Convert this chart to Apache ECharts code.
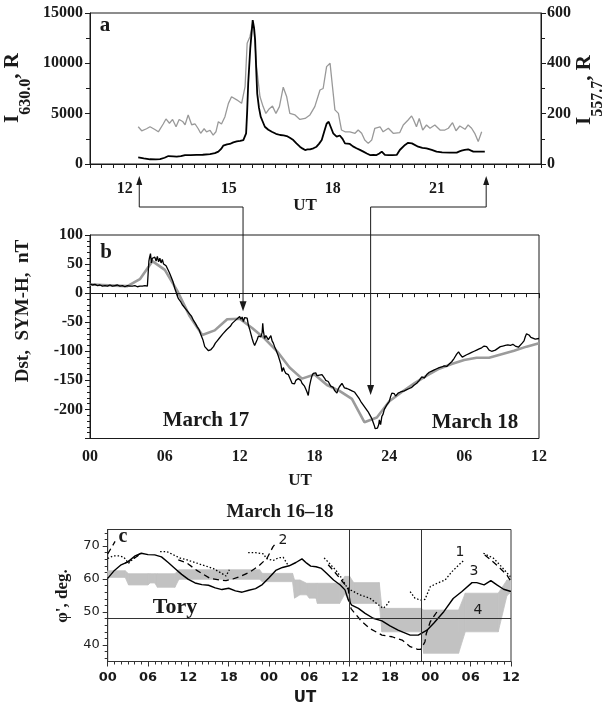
<!DOCTYPE html>
<html>
<head>
<meta charset="utf-8">
<script src="https://cdn.jsdelivr.net/npm/echarts@6/dist/echarts.min.js"></script>
<style>
  html, body { margin: 0; padding: 0; background: #fff; }
  #chart { width: 605px; height: 711px; }
</style>
</head>
<body>
<div id="chart"></div>
<script>
// ---- Panel a: auroral emission intensities, UT hours (March 17) ----
const i630 = [
  [12.39,662],[12.55,560],[12.73,470],[12.9,450],[13.02,480],[13.15,620],[13.26,790],[13.4,760],[13.5,730],
  [13.62,780],[13.74,890],[13.9,880],[14.07,900],[14.25,920],[14.46,990],[14.6,1080],[14.7,1230],[14.78,1500],
  [14.84,1820],[14.95,1950],[15.03,1990],[15.13,2150],[15.23,2250],[15.33,2300],[15.42,2380],[15.47,2500],
  [15.5,3050],[15.53,5200],[15.56,8000],[15.62,11500],[15.69,14300],[15.73,13500],[15.76,12300],[15.79,9500],
  [15.82,7000],[15.87,5600],[15.92,4700],[15.98,4200],[16.04,3700],[16.14,3400],[16.24,3200],[16.36,3000],
  [16.48,2880],[16.58,2850],[16.67,2780],[16.76,2600],[16.86,2380],[16.95,2050],[17.05,1720],[17.12,1550],
  [17.2,1390],[17.27,1450],[17.34,1460],[17.44,1560],[17.53,1720],[17.6,2000],[17.68,2380],[17.75,3200],
  [17.82,4000],[17.88,4200],[17.92,4040],[18.01,3050],[18.11,2720],[18.2,2830],[18.28,2500],[18.35,2050],
  [18.49,1990],[18.58,1750],[18.68,1560],[18.78,1400],[18.88,1230],[18.98,1050],[19.07,890],[19.17,900],
  [19.26,890],[19.34,1050],[19.41,1230],[19.5,900],[19.6,880],[19.72,890],[19.84,900],[19.93,1390],
  [20.08,1890],[20.17,2100],[20.22,2220],[20.28,2050],[20.32,1890],[20.46,1720],[20.58,1600],[20.7,1560],
  [20.85,1400],[20.99,1230],[21.15,1150],[21.37,1130],[21.57,1130],[21.65,1250],[21.71,1320],[21.8,1400],
  [21.9,1460],[21.97,1350],[22.05,1230],[22.2,1220],[22.38,1220]
];
const i557 = [
  [12.39,148],[12.49,132],[12.63,140],[12.73,148],[12.87,137],[12.97,128],[13.11,159],[13.19,179],[13.29,162],
  [13.38,177],[13.48,148],[13.57,177],[13.67,169],[13.74,156],[13.83,195],[13.93,156],[14.03,159],[14.12,140],
  [14.19,122],[14.29,140],[14.36,128],[14.46,134],[14.55,115],[14.63,128],[14.7,168],[14.79,159],[14.89,188],
  [14.99,241],[15.08,267],[15.23,255],[15.37,241],[15.47,307],[15.53,480],[15.61,506],[15.69,560],[15.73,535],
  [15.8,387],[15.9,267],[15.99,228],[16.07,201],[16.17,220],[16.26,230],[16.36,201],[16.46,228],[16.57,305],
  [16.67,267],[16.76,201],[16.91,195],[17.05,177],[17.2,181],[17.34,195],[17.48,228],[17.63,294],[17.72,300],
  [17.82,387],[17.92,400],[17.99,307],[18.06,215],[18.16,201],[18.25,135],[18.35,128],[18.49,128],[18.64,122],
  [18.73,135],[18.83,122],[18.92,95],[19.02,82],[19.12,95],[19.21,142],[19.36,148],[19.45,128],[19.6,142],
  [19.74,122],[19.93,125],[20.03,155],[20.17,175],[20.27,191],[20.32,178],[20.41,148],[20.49,181],[20.59,135],
  [20.7,155],[20.8,142],[20.94,155],[21.09,135],[21.23,135],[21.33,142],[21.45,164],[21.55,132],[21.66,151],
  [21.81,138],[21.9,155],[22.0,142],[22.09,122],[22.19,89],[22.29,128]
];
const utLabelsA = [12, 15, 18, 21];

// ---- Panel b: Dst (hourly) and SYM-H, hours from 00 UT March 17 ----
const dst = [
  [0,15],[1,14],[2,13],[3,12],[4,24],[5,55],[6,40],[7,4],[8,-40],[9,-72],[10,-64],[11,-45],[12,-44],
  [13,-60],[14,-78],[15,-100],[16,-128],[17,-147],[18,-140],[19,-158],[20,-168],[21,-182],[22,-222],
  [23,-214],[24,-186],[25,-170],[26,-155],[27,-142],[28,-130],[29,-122],[30,-115],[31,-111],[32,-111],
  [33,-105],[34,-99],[35,-92],[36,-86]
];
const symH = [
  [0,16],[0.2,14],[0.4,15],[0.6,13],[0.8,14],[1,12],[1.2,13],[1.4,12],[1.6,14],[1.8,12],[2,13],[2.2,14],
  [2.4,12],[2.6,13],[2.8,11],[3,13],[3.2,12],[3.4,12],[3.6,13],[3.8,11],[4,12],[4.2,12],[4.4,13],[4.6,12],
  [4.68,14],[4.72,55],[4.78,62],[4.85,68],[4.92,52],[5,60],[5.1,57],[5.2,62],[5.3,55],[5.4,63],[5.5,54],
  [5.6,60],[5.7,52],[5.8,58],[5.9,50],[6,53],[6.1,47],[6.2,44],[6.35,36],[6.5,28],[6.65,20],[6.8,8],
  [6.9,2],[7,-5],[7.1,-10],[7.25,-14],[7.4,-20],[7.55,-22],[7.7,-28],[7.85,-30],[8,-36],[8.15,-40],
  [8.3,-47],[8.45,-52],[8.6,-58],[8.75,-63],[8.9,-72],[9.05,-80],[9.2,-92],[9.35,-95],[9.5,-99],[9.6,-101],
  [9.7,-97],[9.8,-95],[9.9,-92],[10.05,-86],[10.2,-82],[10.35,-78],[10.5,-75],[10.65,-70],[10.8,-68],
  [10.95,-63],[11.1,-60],[11.25,-57],[11.4,-52],[11.55,-50],[11.7,-46],[11.85,-43],[12,-40],[12.1,-45],
  [12.2,-41],[12.3,-49],[12.4,-42],[12.5,-45],[12.6,-43],[12.7,-55],[12.8,-62],[12.9,-70],[13,-78],
  [13.1,-85],[13.2,-90],[13.3,-92],[13.4,-80],[13.5,-74],[13.6,-72],[13.7,-75],[13.8,-68],[13.85,-52],
  [13.9,-65],[14,-78],[14.1,-73],[14.2,-76],[14.3,-80],[14.4,-77],[14.5,-73],[14.6,-82],[14.7,-86],
  [14.8,-92],[14.9,-97],[15,-100],[15.1,-108],[15.2,-115],[15.3,-122],[15.4,-135],[15.5,-128],[15.6,-134],
  [15.7,-138],[15.8,-136],[15.9,-140],[16,-145],[16.1,-150],[16.2,-155],[16.3,-152],[16.4,-156],[16.5,-150],
  [16.6,-152],[16.7,-147],[16.8,-149],[16.9,-150],[17,-155],[17.1,-154],[17.2,-160],[17.3,-165],[17.4,-170],
  [17.5,-176],[17.6,-160],[17.7,-150],[17.8,-142],[17.9,-138],[18,-140],[18.1,-137],[18.2,-142],[18.3,-145],
  [18.4,-141],[18.5,-144],[18.6,-140],[18.7,-142],[18.8,-146],[18.9,-150],[19,-148],[19.1,-152],[19.2,-155],
  [19.3,-160],[19.4,-158],[19.5,-162],[19.6,-167],[19.7,-170],[19.8,-172],[19.9,-165],[20,-161],[20.1,-158],
  [20.2,-155],[20.3,-158],[20.4,-163],[20.5,-160],[20.6,-164],[20.7,-162],[20.8,-166],[20.9,-163],[21,-168],
  [21.1,-166],[21.2,-170],[21.3,-173],[21.4,-176],[21.5,-178],[21.6,-182],[21.7,-186],[21.8,-188],[21.9,-192],
  [22,-195],[22.1,-198],[22.2,-200],[22.3,-204],[22.4,-208],[22.5,-212],[22.6,-216],[22.7,-222],[22.8,-228],
  [22.86,-233],[22.95,-230],[23.05,-232],[23.15,-226],[23.2,-218],[23.3,-226],[23.4,-212],[23.5,-208],
  [23.6,-200],[23.7,-196],[23.8,-192],[23.9,-190],[24,-186],[24.1,-178],[24.2,-172],[24.3,-175],[24.4,-173],
  [24.5,-177],[24.6,-175],[24.7,-172],[24.8,-174],[24.9,-170],[25,-172],[25.2,-168],[25.4,-166],[25.6,-164],
  [25.8,-162],[26,-158],[26.2,-155],[26.4,-150],[26.6,-144],[26.8,-146],[27,-140],[27.2,-136],[27.4,-134],
  [27.6,-132],[27.8,-130],[28,-128],[28.2,-127],[28.4,-125],[28.6,-126],[28.8,-122],[29,-118],[29.2,-112],
  [29.4,-105],[29.55,-101],[29.7,-106],[29.85,-110],[30,-109],[30.2,-106],[30.4,-104],[30.6,-102],[30.8,-100],
  [31,-98],[31.2,-96],[31.4,-94],[31.6,-91],[31.7,-89],[31.8,-92],[31.9,-95],[32,-98],[32.2,-100],[32.35,-102],
  [32.5,-98],[32.7,-95],[32.9,-92],[33.1,-91],[33.3,-90],[33.5,-89],[33.7,-90],[33.9,-88],[34.1,-91],
  [34.35,-93],[34.5,-90],[34.65,-86],[34.8,-82],[34.9,-75],[35,-70],[35.06,-68],[35.2,-72],[35.35,-76],
  [35.5,-78],[35.7,-79],[35.85,-77],[36,-78]
];

// Arrows linking the two upper panels: UT in panel a, and [hour, nT] in panel b
const arrowTimesA = [12.42, 22.42];
const arrowTipsB = [[12.27, -31], [22.5, -175]];

// ---- Panel c: latitudes, hours from 00 UT March 16 ----
const curve3 = [
  [0,60.2],[1,62.6],[2,64.3],[3,65.2],[4,66.9],[5,67.8],[6,67.4],[7,67.3],[8,66.7],[9,65.0],[10,63.2],
  [11,61.4],[12,59.9],[13,58.8],[14,58.3],[15,58.1],[16,57.3],[17,56.8],[18,57.2],[19,56.4],[20,56.0],
  [21,56.6],[22,57.1],[23,58.3],[24,60.4],[25,62.6],[26,63.5],[27,64.0],[28,65.0],[28.9,66.1],[29.6,64.8],
  [30.2,63.9],[31,63.7],[31.8,63.2],[32.6,61.7],[33.6,59.7],[34.6,58.2],[35.3,56.7],[35.8,53.6],[36.3,52.1],
  [37.3,51.1],[38.3,49.6],[39.5,48.1],[40.8,47.3],[42,45.8],[43.2,44.5],[44,43.8],[45,43.0],[46.2,43.0],
  [47.5,44.5],[48.5,46.6],[50,50.1],[51.4,54.1],[52.7,56.2],[54.2,58.9],[54.9,58.9],[56,58.2],[57,59.5],
  [57.9,58.2],[58.9,56.9],[60,56.2]
];
const curve1Segments = [
  [[0,66.2],[0.8,67.0],[1.8,67.0],[2.4,66.6],[3.1,64.8],[4,66.5],[4.8,67.6]],
  [[7.8,68.3],[8.8,68.3],[9.8,67.3],[10.8,66.3],[11.8,65.8],[13.7,64.5],[15.7,63.2],[17.2,61.4],[17.6,60.9],[18.1,62.8]],
  [[20.9,68.0],[22.0,68.0],[23.2,67.6],[23.6,66.2],[24.6,65.6],[25.4,66.4],[26.1,66.6],[26.8,64.3]],
  [[32.2,66.4],[33.1,64.5],[34.0,62.5],[34.9,60.0],[35.5,57.8],[36.1,56.7],[37.5,55.2],[39,54.2],[40,52.6],[41,51.1],[41.5,52.1],[42,53.6]],
  [[45,56.2],[45.7,54.2],[46.5,53.6],[47.2,53.8],[48,57.7],[49,58.7],[50.2,59.7],[51.2,62.2],[52.2,64.2],[52.9,65.5]],
  [[55.9,67.8],[57.4,66.3],[58.6,63.7],[59.9,60.7]]
];
const curve2Segments = [
  [[0,67.6],[1.1,71.4]],
  [[2.6,64.8],[3.6,65.8],[4.6,67.2]],
  [[10.5,65.8],[11.8,64.8],[13.2,62.7],[15.2,60.2],[16.7,59.7],[17.6,59.5],[18.6,60.0],[19.7,60.7],[21.2,62.2],[22.5,64.0],[23.7,66.3],[24.6,69.8],[25.0,70.8]],
  [[32.8,64.3],[33.7,62.3],[34.5,60.3],[35.3,58.3],[35.8,56.8],[36.2,51.0],[37.8,47.1],[39,45.0],[40.8,43.0],[42.3,42.5],[43.8,41.5],[45,39.5],[46.1,38.7],[46.6,38.7],[47.2,41.0],[47.4,43.5],[48,47.1],[49,50.1]],
  [[56.1,67.3],[57.9,64.2],[59.4,61.2],[60,59.2]]
];
// Shaded region 4: hour, lower edge, upper edge
const band4T  = [0, 2.6, 3.1, 6.0, 6.3, 7.0, 7.4, 10.0, 10.6, 22.6, 23.0, 27.5, 27.8, 28.6, 29.6, 30.0, 31.0, 31.2, 34.5, 35.3, 36.0, 36.6, 40.4, 40.8, 46.6, 47.0, 52.2, 53.2, 58.1, 59.4, 60];
const band4Lo = [60.5, 60.5, 58.2, 58.2, 58.8, 58.8, 57.5, 57.5, 59.9, 59.9, 59.2, 59.2, 54.2, 55.2, 55.2, 54.2, 54.2, 52.6, 52.6, 55.5, 52.8, 52.6, 52.6, 44.0, 44.0, 37.5, 37.5, 44.0, 44.0, 55.0, 56.0];
const band4Hi = [62.5, 62.5, 61.6, 61.6, 61.6, 61.6, 61.6, 61.6, 62.8, 62.8, 61.7, 61.7, 59.7, 59.7, 58.7, 58.7, 58.7, 58.7, 58.7, 60.8, 60.8, 58.9, 58.9, 51.1, 51.1, 50.6, 50.6, 55.7, 55.7, 59.7, 59.7];
const toryLatitude = 48.2;
const markerHours = [36, 46.6];

const chart = echarts.init(document.getElementById('chart'), null, { renderer: 'canvas' });

const ink = '#1a1a1a';
const bandGray = '#c2c2c2';
const serif = 'Liberation Serif, Times New Roman, serif';
const sans = 'DejaVu Sans, Verdana, sans-serif';
const serifLabel = { fontFamily: serif, fontWeight: 'bold', fontSize: 16, color: ink };
const axisLine = { show: true, lineStyle: { color: ink, width: 1 } };
const pad2 = v => (v < 10 ? '0' : '') + v;

const lineSeries = (name, data, xi, yi, style) => ({
  name, type: 'line', data, xAxisIndex: xi, yAxisIndex: yi,
  showSymbol: false, symbol: 'none', silent: true, lineStyle: style, z: 3
});

const series = [
  lineSeries('I557.7', i557, 0, 1, { color: '#999', width: 1.3 }),
  lineSeries('I630.0', i630, 0, 0, { color: '#000', width: 1.8 }),
  Object.assign(lineSeries('Dst', dst, 1, 2, { color: '#9b9b9b', width: 2.6 }), {
    markLine: { silent: true, symbol: 'none', label: { show: false },
      lineStyle: { color: ink, width: 1, type: 'solid' }, data: [{ yAxis: 0 }] }
  }),
  lineSeries('SYM-H', symH, 1, 2, { color: '#000', width: 1.3 }),
  {
    // region 4: filled between its lower and upper edges, one quad per step
    name: 'band4', type: 'custom', xAxisIndex: 2, yAxisIndex: 3, silent: true, z: 1,
    data: band4T.map((t, i) => [t, band4Lo[i], band4Hi[i]]),
    encode: { x: 0, y: [1, 2] },
    renderItem: (params, api) => {
      const i = params.dataIndex;
      if (i >= band4T.length - 1) return null;
      const pts = [
        api.coord([band4T[i], band4Lo[i]]),
        api.coord([band4T[i + 1], band4Lo[i + 1]]),
        api.coord([band4T[i + 1], band4Hi[i + 1]]),
        api.coord([band4T[i], band4Hi[i]])
      ];
      return { type: 'polygon', shape: { points: pts },
        style: { fill: bandGray, stroke: bandGray, lineWidth: 0.8 } };
    }
  }
];
curve1Segments.forEach((seg, k) => series.push(lineSeries('curve1-' + k, seg, 2, 3, { color: '#000', width: 1.3, type: [1.5, 2] })));
curve2Segments.forEach((seg, k) => series.push(lineSeries('curve2-' + k, seg, 2, 3, { color: '#000', width: 1.3, type: [6, 4] })));
series.push(Object.assign(lineSeries('curve3', curve3, 2, 3, { color: '#000', width: 1.4 }), {
  markLine: {
    silent: true, symbol: 'none', label: { show: false },
    lineStyle: { color: '#333', width: 1, type: 'solid' },
    data: [{ yAxis: toryLatitude }].concat(markerHours.map(h => ({ xAxis: h })))
  }
}));

const cTicksMinor = [];
for (let v = 36; v <= 74; v += 2) cTicksMinor.push(v);

const option = {
  animation: false,
  backgroundColor: '#fff',
  grid: [
    { left: 90, top: 13, width: 451, height: 151, show: true, borderColor: ink, borderWidth: 1 },
    { left: 90, top: 235, width: 449, height: 203.5, show: true, borderColor: ink, borderWidth: 1 },
    { left: 107.7, top: 529.5, width: 403.3, height: 132, show: true, borderColor: '#333', borderWidth: 1 }
  ],
  xAxis: [
    {
      gridIndex: 0, type: 'value', min: 11, max: 24, interval: 1,
      axisLine, splitLine: { show: false },
      axisTick: { show: true, length: 4, lineStyle: { color: ink } },
      minorTick: { show: true, splitNumber: 3, length: 4, lineStyle: { color: ink } },
      axisLabel: Object.assign({}, serifLabel, { margin: 17, formatter: v => utLabelsA.includes(v) ? String(v) : '' })
    },
    {
      gridIndex: 1, type: 'value', min: 0, max: 36, interval: 6,
      axisLine, splitLine: { show: false },
      axisTick: { show: true, length: 5, lineStyle: { color: ink } },
      minorTick: { show: true, splitNumber: 6, length: 4, lineStyle: { color: ink } },
      axisLabel: Object.assign({}, serifLabel, { margin: 10, formatter: v => v === 24 ? '24' : pad2(v % 24) })
    },
    {
      gridIndex: 2, type: 'value', min: 0, max: 60, interval: 6,
      axisLine: { show: true, lineStyle: { color: '#333' } }, splitLine: { show: false },
      axisTick: { show: true, length: 5, lineStyle: { color: '#333' } },
      minorTick: { show: true, splitNumber: 6, length: 3, lineStyle: { color: '#333' } },
      axisLabel: { fontFamily: sans, fontWeight: 'bold', fontSize: 13, color: ink, margin: 10,
        formatter: v => pad2(v % 24) }
    }
  ],
  yAxis: [
    {
      gridIndex: 0, type: 'value', min: 0, max: 15000, interval: 5000, position: 'left',
      axisLine, splitLine: { show: false },
      axisTick: { show: true, length: 5, lineStyle: { color: ink } },
      minorTick: { show: true, splitNumber: 2, length: 4, lineStyle: { color: ink } },
      axisLabel: Object.assign({}, serifLabel, { margin: 7, formatter: v => String(v) })
    },
    {
      gridIndex: 0, type: 'value', min: 0, max: 600, interval: 200, position: 'right',
      axisLine, splitLine: { show: false },
      axisTick: { show: true, length: 5, lineStyle: { color: ink } },
      minorTick: { show: true, splitNumber: 2, length: 4, lineStyle: { color: ink } },
      axisLabel: Object.assign({}, serifLabel, { margin: 6, formatter: v => String(v) })
    },
    {
      gridIndex: 1, type: 'value', min: -250, max: 100, interval: 50,
      axisLine, splitLine: { show: false },
      axisTick: { show: true, length: 5, lineStyle: { color: ink } },
      minorTick: { show: true, splitNumber: 5, length: 3, lineStyle: { color: ink } },
      axisLabel: Object.assign({}, serifLabel, { margin: 7, formatter: v => v === -250 ? '' : String(v) })
    },
    {
      gridIndex: 2, type: 'value', min: 35, max: 75,
      axisLine: { show: true, lineStyle: { color: '#333' } }, splitLine: { show: false },
      axisTick: { show: true, length: 5, customValues: [40, 50, 60, 70], lineStyle: { color: '#333' } },
      axisLabel: { customValues: [40, 50, 60, 70], fontFamily: sans, fontSize: 13, color: '#222', margin: 8 }
    },
    {
      gridIndex: 2, type: 'value', min: 35, max: 75, position: 'left',
      axisLine: { show: false }, splitLine: { show: false },
      axisTick: { show: true, length: 3, customValues: cTicksMinor, lineStyle: { color: '#333' } },
      axisLabel: { show: false }
    }
  ],
  series
};
chart.setOption(option);

// ---- Annotations (text and linking arrows) ----
const txt = (x, y, text, font, extra) => ({
  type: 'text', x, y, silent: true, z: 10,
  style: Object.assign({ text, font, fill: ink, align: 'center', verticalAlign: 'middle' }, extra || {})
});
const titleRich = {
  b: { font: 'bold 21px ' + serif, fill: ink, lineHeight: 22, verticalAlign: 'top' },
  s: { font: 'bold 16px ' + serif, fill: ink, lineHeight: 32, verticalAlign: 'bottom' }
};

const graphics = [
  txt(105, 26, 'a', 'bold 21px ' + serif),
  txt(305, 206, 'UT', 'bold 17px ' + serif),
  txt(106, 253, 'b', 'bold 21px ' + serif),
  txt(206, 421, 'March 17', 'bold 21px ' + serif),
  txt(475, 423, 'March 18', 'bold 21px ' + serif),
  txt(300, 481, 'UT', 'bold 17px ' + serif),
  txt(280, 512, 'March 16\u201318', 'bold 19px ' + serif),
  txt(123, 537, 'c', 'bold 20px ' + serif),
  txt(175, 607, 'Tory', 'bold 22px ' + serif),
  txt(460, 552, '1', '14px ' + sans),
  txt(283, 540, '2', '14px ' + sans),
  txt(474, 571, '3', '14px ' + sans),
  txt(478, 610, '4', '14px ' + sans),
  txt(305, 698, 'UT', 'bold 15px ' + sans),
  Object.assign(txt(23, 311, 'Dst,  SYM-H,  nT', 'bold 19px ' + serif), { rotation: Math.PI / 2 }),
  Object.assign(txt(63, 596, "\u03c6', deg.", 'bold 17px ' + serif), { rotation: Math.PI / 2 }),
  { type: 'text', x: 18, y: 88, rotation: Math.PI / 2, silent: true, z: 10,
    style: { text: '{b|I}{s|630.0}{b|, R}', align: 'center', verticalAlign: 'middle', fill: ink, rich: titleRich } },
  { type: 'text', x: 590, y: 90, rotation: Math.PI / 2, silent: true, z: 10,
    style: { text: '{b|I}{s|557.7}{b|, R}', align: 'center', verticalAlign: 'middle', fill: ink, rich: titleRich } }
];

// Arrows: up from below panel a's time axis, across, and down onto the SYM-H curve
const linkY = 207;
const axisBottomA = chart.convertToPixel({ gridIndex: 0 }, [11, 0])[1];
arrowTimesA.forEach((t, k) => {
  const xa = chart.convertToPixel({ xAxisIndex: 0, yAxisIndex: 0 }, [t, 0])[0];
  const tip = chart.convertToPixel({ xAxisIndex: 1, yAxisIndex: 2 }, arrowTipsB[k]);
  const topTip = axisBottomA + 12;
  graphics.push({
    type: 'polyline', silent: true, z: 9,
    shape: { points: [[xa, topTip + 6], [xa, linkY], [tip[0], linkY], [tip[0], tip[1] - 8]] },
    style: { stroke: ink, lineWidth: 1, fill: null }
  });
  graphics.push({
    type: 'polygon', silent: true, z: 9,
    shape: { points: [[xa, topTip], [xa - 3, topTip + 9], [xa + 3, topTip + 9]] },
    style: { fill: ink }
  });
  graphics.push({
    type: 'polygon', silent: true, z: 9,
    shape: { points: [[tip[0], tip[1]], [tip[0] - 3.5, tip[1] - 10], [tip[0] + 3.5, tip[1] - 10]] },
    style: { fill: ink }
  });
});

chart.setOption({ graphic: graphics });
</script>
</body>
</html>
